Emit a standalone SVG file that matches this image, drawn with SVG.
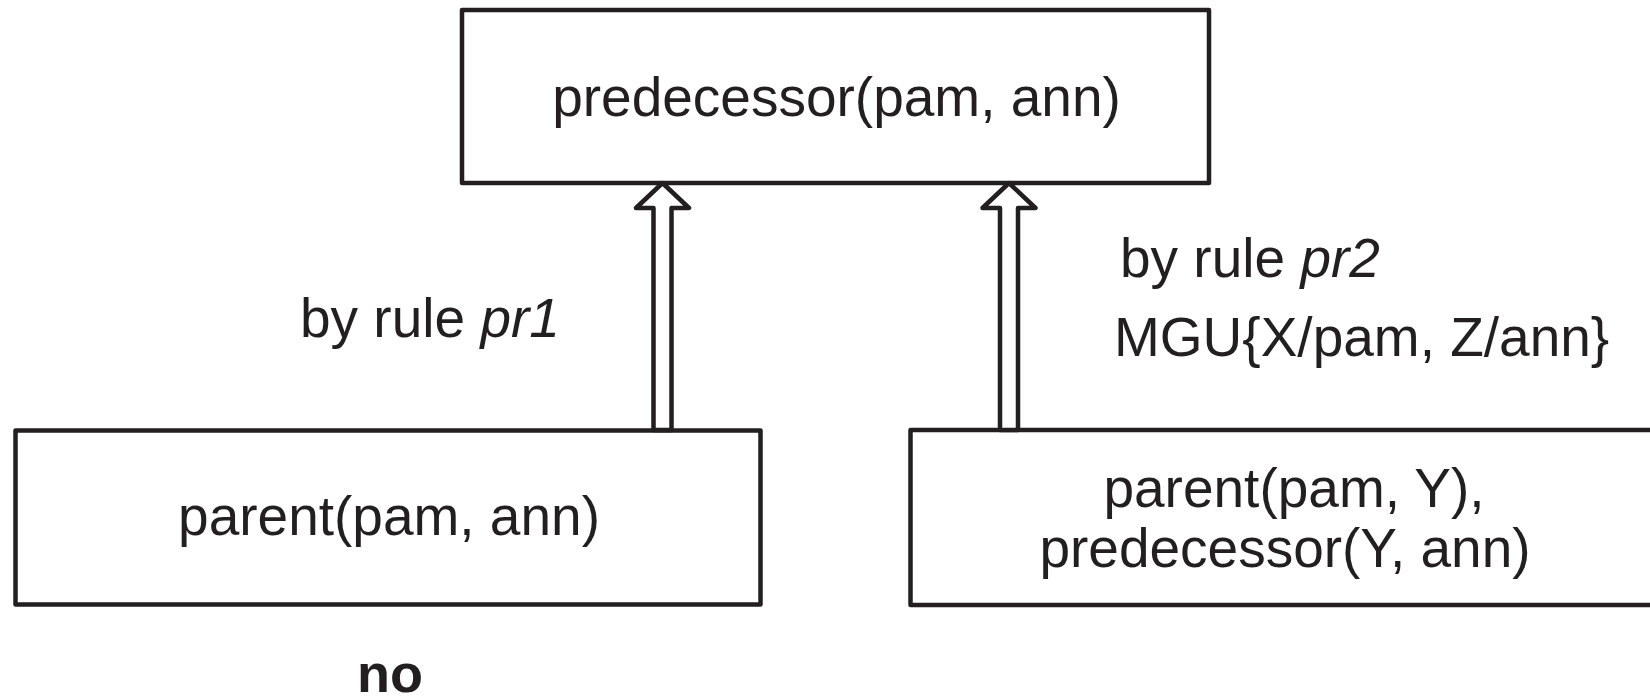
<svg xmlns="http://www.w3.org/2000/svg" width="1650" height="700" viewBox="0 0 1650 700">
<style>
.box{fill:#fff;stroke:#231f20;stroke-width:4.5;stroke-linejoin:round}
.arrow{fill:#fff;stroke:#231f20;stroke-width:4.5;stroke-linejoin:round}
text{font-family:"Liberation Sans",Arial,sans-serif;font-size:55px;fill:#231f20}
.c{text-anchor:middle}
.i{font-style:italic}
.b{font-weight:bold;font-size:54px}
</style>
<rect width="1650" height="700" fill="#fff"/>
<g id="top">
<rect class="box" x="462" y="10" width="747" height="173"/>
<text class="c" x="836.5" y="116">predecessor(pam, ann)</text>
</g>
<g id="left">
<rect class="box" x="15.5" y="430.5" width="745" height="174"/>
<text class="c" x="389" y="535">parent(pam, ann)</text>
</g>
<g id="right">
<rect class="box" x="910.5" y="430" width="770" height="175"/>
<text class="c" x="1294" y="507">parent(pam, Y),</text>
<text class="c" x="1285" y="567">predecessor(Y, ann)</text>
</g>
<g id="connectors">
<polygon class="arrow" points="662.5,183 689,208 671.5,208 671.5,430 653.5,430 653.5,208 636,208"/>
<polygon class="arrow" points="1009,183 1035.5,208 1018,208 1018,430 1000,430 1000,208 982.5,208"/>
</g>
<g id="labels">
<text x="300" y="337">by rule <tspan class="i">pr1</tspan></text>
<text x="1120" y="277">by rule <tspan class="i">pr2</tspan></text>
<text x="1114" y="356">MGU{X/pam, Z/ann}</text>
<text class="c b" x="390" y="692">no</text>
</g>
</svg>
